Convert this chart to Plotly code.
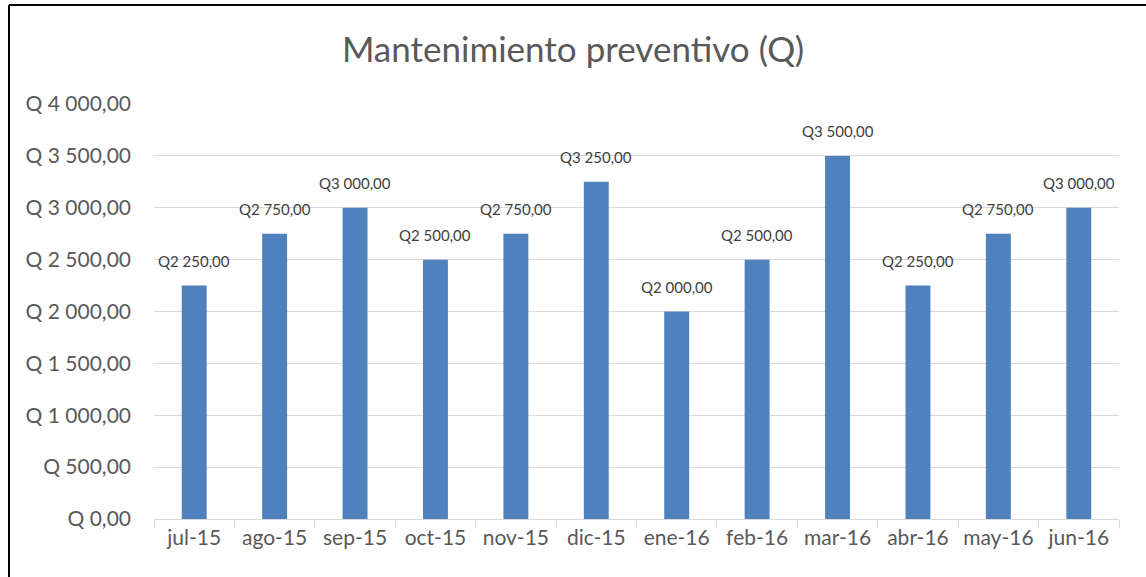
import plotly.graph_objects as go

months = ["jul-15", "ago-15", "sep-15", "oct-15", "nov-15", "dic-15",
          "ene-16", "feb-16", "mar-16", "abr-16", "may-16", "jun-16"]
values = [2250, 2750, 3000, 2500, 2750, 3250, 2000, 2500, 3500, 2250, 2750, 3000]
tick_values = [0, 500, 1000, 1500, 2000, 2500, 3000, 3500, 4000]


def fmt_num(v):
    s = f"{v:,.2f}"
    ip, dp = s.split(".")
    return ip.replace(",", " ") + "," + dp


tick_text = ["Q " + fmt_num(v) for v in tick_values]
bar_text = ["Q" + fmt_num(v) for v in values]

FONT = "Lato, 'Open Sans', sans-serif"

fig = go.Figure(go.Bar(
    x=months, y=values,
    marker=dict(color="#4f81bd", line=dict(width=0)),
    hoverinfo="x+y",
))

for m, v, t in zip(months, values, bar_text):
    fig.add_annotation(x=m, y=v, text=t, showarrow=False, yanchor="bottom",
                       yshift=14, font=dict(family=FONT, size=15, color="#404040"))

W, H = 1146, 577
L, R, T, B = 154, 27, 104, 58
pw, ph = W - L - R, H - T - B


def px_x(p):
    return (p - L) / pw


def px_y(p):
    return (H - B - p) / ph


fig.update_layout(
    width=W, height=H,
    margin=dict(l=L, r=R, t=T, b=B),
    paper_bgcolor="white", plot_bgcolor="white",
    bargap=0.69, showlegend=False,
    title=dict(text="Mantenimiento preventivo (Q)", x=0.5, xanchor="center",
               y=1 - 50 / H, yanchor="middle",
               font=dict(family=FONT, size=35, color="#595959")),
    xaxis=dict(showgrid=False, showline=True, linecolor="#d9d9d9", linewidth=1,
               ticks="outside", tickson="boundaries", ticklen=8, tickcolor="#d9d9d9",
               tickfont=dict(family=FONT, size=21, color="#595959")),
    yaxis=dict(range=[0, 4000], tickvals=tick_values, ticktext=tick_text,
               showgrid=True, gridcolor="#d9d9d9", gridwidth=1, zeroline=False,
               showline=False, ticks="", ticklabelstandoff=22,
               tickfont=dict(family=FONT, size=21, color="#595959")),
    shapes=[
        dict(type="line", xref="paper", yref="paper",
             x0=px_x(9), x1=px_x(9), y0=px_y(5), y1=px_y(H + 5),
             line=dict(color="black", width=2)),
        dict(type="line", xref="paper", yref="paper",
             x0=px_x(9), x1=px_x(W + 5), y0=px_y(5), y1=px_y(5),
             line=dict(color="black", width=2)),
    ],
)

fig.write_html("out.html", config={"displayModeBar": False},
               post_script="document.body.style.margin='0';document.body.style.overflow='hidden';")
